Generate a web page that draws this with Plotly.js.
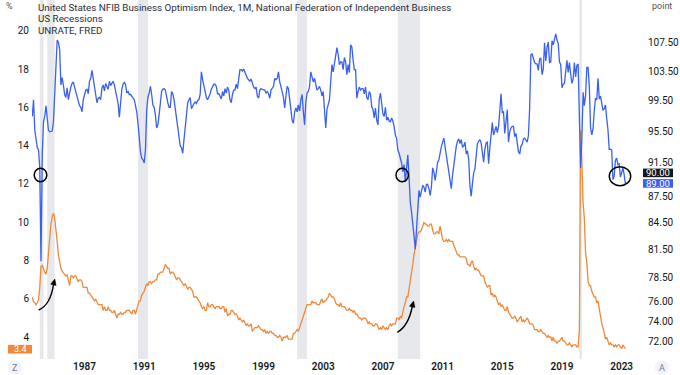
<!DOCTYPE html>
<html><head><meta charset="utf-8">
<script src="https://cdn.plot.ly/plotly-3.0.1.min.js"></script>
<style>html,body{margin:0;padding:0;background:#fff;}#chart{width:680px;height:375px;}</style>
</head><body><div id="chart"></div>
<script>
// ---------- DATA ----------
// Pre-1986 NFIB is quarterly (1978Q3 .. 1985Q4); UNRATE shown on the same quarterly bars
const quarterlyStart = {year: 1978, month: 7};
const nfibQuarterly = [97.4, 99.6, 95.6, 94.4, 93.4, 93.1, 90.9, 80.2, 92.5, 96.7, 97.4, 98.8, 97.1, 95.6, 95.4,
  95.5, 95.5, 96.7, 100.3, 105.8, 107.9, 107.6, 106.5, 101.6, 102.6, 101.6, 100.3, 99.9, 101.2, 99.6];
const unrateQuarterly = [6.1, 5.85, 5.8, 5.7, 5.8, 5.95, 6.6, 7.7, 7.75, 7.5, 7.4, 7.3, 7.6, 8.4, 9.4,
  9.9, 10.3, 10.47, 10.2, 9.7, 9.0, 8.3, 7.8, 7.6, 7.45, 7.35, 7.3, 7.2, 7.25, 7.0];

// Monthly from 1986-01 to 2023-04
const monthlyStart = {year: 1986, month: 1};
const nfibMonthly = [
  100.7,101.3,101.8,102.0,101.3,100.6,99.9,99.6,98.8,98.6,98.0,99.6,
  100.5,100.9,101.0,100.4,102.1,102.5,103.6,102.5,101.8,100.9,99.2,99.8,
  99.9,99.6,101.2,101.6,100.8,101.8,101.3,101.0,102.1,101.5,101.8,102.1,
  101.6,100.9,100.1,99.1,97.3,99.9,101.0,101.7,102.0,101.6,100.5,100.7,
  100.3,100.3,100.1,99.8,99.6,98.8,98.0,96.5,94.1,92.9,92.1,91.9,
  91.5,93.1,98.3,99.9,100.5,101.4,100.3,98.9,98.6,97.6,95.9,96.3,
  97.6,99.6,100.7,101.0,101.1,100.9,99.9,99.2,98.6,98.6,100.7,100.4,
  99.6,98.3,97.2,95.9,94.4,93.6,93.4,92.7,94.4,96.3,98.3,99.2,
  99.6,99.9,98.4,98.8,99.1,99.3,99.1,99.5,99.6,100.3,103.4,102.3,
  101.4,100.9,99.9,99.6,99.9,100.4,101.0,101.4,101.7,101.7,101.4,100.4,
  100.4,100.1,99.7,100.7,100.1,101.1,100.5,101.3,100.9,99.6,99.2,100.3,
  100.9,100.9,101.7,101.1,102.5,103.7,103.7,103.5,103.8,103.4,102.8,102.5,
  102.3,102.1,102.4,101.7,101.3,101.1,101.3,100.1,99.8,100.9,101.1,101.0,
  100.9,100.9,100.5,100.7,100.4,99.8,100.9,101.1,101.4,102.5,102.3,102.5,
  103.4,102.0,101.1,100.7,99.9,98.5,100.1,101.4,101.1,99.6,98.3,96.9,
  96.5,98.0,98.5,98.0,98.9,98.1,99.6,100.3,98.0,96.3,99.3,100.5,
  100.7,101.4,103.4,102.5,102.0,102.5,101.6,100.9,101.1,101.4,100.9,100.1,
  100.7,98.8,95.9,98.3,99.2,99.6,102.0,104.4,103.4,104.5,105.4,106.8,
  105.8,104.4,104.8,104.8,103.7,105.4,104.8,103.0,104.4,103.3,107.2,106.9,
  105.1,103.7,103.7,99.8,100.7,101.3,100.9,101.1,101.1,100.4,101.3,99.9,
  99.6,100.7,100.3,98.7,98.3,97.2,98.5,96.9,96.3,99.6,100.5,98.9,
  97.7,97.4,98.6,96.9,97.3,96.8,96.7,97.2,96.8,96.1,95.0,94.6,
  93.1,92.7,92.1,91.5,90.4,91.3,89.2,91.1,92.5,89.9,86.8,85.7,
  84.6,83.0,81.5,83.8,86.5,88.2,87.4,88.0,88.8,88.6,88.0,88.9,
  88.9,88.4,87.6,88.6,90.9,90.4,89.4,90.4,91.6,91.9,92.9,93.5,
  94.1,94.6,93.5,92.4,91.6,90.6,89.8,88.4,90.0,91.3,92.7,93.6,
  94.2,94.5,93.9,94.4,93.5,93.6,94.1,92.6,93.0,91.9,88.7,87.5,
  89.0,90.3,90.8,92.4,93.9,94.2,94.4,94.0,92.5,91.6,93.2,94.0,
  94.1,91.4,93.4,95.2,96.6,95.0,95.7,96.1,95.3,96.1,98.1,100.4,
  97.9,98.0,95.2,96.9,98.3,94.1,95.4,95.9,96.1,96.1,94.8,95.2,
  93.9,92.9,92.6,93.6,93.8,94.5,94.6,94.4,94.1,94.9,98.4,105.8,
  105.9,105.3,104.7,104.5,104.5,103.6,105.2,105.3,103.0,103.8,107.5,104.9,
  106.9,107.6,104.7,104.8,107.8,107.2,107.9,108.8,107.9,107.4,104.8,104.4,
  101.2,101.7,101.8,103.5,105.0,103.3,104.7,103.1,101.8,102.4,104.7,102.7,
  104.3,104.5,96.4,90.9,94.4,100.6,98.8,100.2,104.0,104.0,101.4,95.9,
  95.0,95.8,98.2,99.8,99.6,102.5,99.7,100.1,99.1,98.2,98.4,98.9,
  97.1,95.7,93.2,93.2,93.1,89.5,89.9,91.8,92.1,91.3,91.4,89.8,
  90.3,90.9,90.1,89.0];
const unrateMonthly = [
  6.7,7.2,7.2,7.1,7.2,7.2,7.0,6.9,7.0,7.0,6.9,6.6,
  6.6,6.6,6.6,6.3,6.3,6.2,6.1,6.0,5.9,6.0,5.8,5.7,
  5.7,5.7,5.7,5.4,5.6,5.4,5.4,5.6,5.4,5.4,5.3,5.3,
  5.4,5.2,5.0,5.2,5.2,5.3,5.2,5.2,5.3,5.3,5.4,5.4,
  5.4,5.3,5.2,5.4,5.4,5.2,5.5,5.7,5.9,5.9,6.2,6.3,
  6.4,6.6,6.8,6.7,6.9,6.9,6.8,6.9,6.9,7.0,7.0,7.3,
  7.3,7.4,7.4,7.4,7.6,7.8,7.7,7.6,7.6,7.3,7.4,7.4,
  7.3,7.1,7.0,7.1,7.1,7.0,6.9,6.8,6.7,6.8,6.6,6.5,
  6.6,6.6,6.5,6.4,6.1,6.1,6.1,6.0,5.9,5.8,5.6,5.5,
  5.6,5.4,5.4,5.8,5.6,5.6,5.7,5.7,5.6,5.5,5.6,5.6,
  5.6,5.5,5.5,5.6,5.6,5.3,5.5,5.1,5.2,5.2,5.4,5.4,
  5.3,5.2,5.2,5.1,4.9,5.0,4.9,4.8,4.9,4.7,4.6,4.7,
  4.6,4.6,4.7,4.3,4.4,4.5,4.5,4.5,4.6,4.5,4.4,4.4,
  4.3,4.4,4.2,4.3,4.2,4.3,4.3,4.2,4.2,4.1,4.1,4.0,
  4.0,4.1,4.0,3.8,4.0,4.0,4.0,4.1,3.9,3.9,3.9,3.9,
  4.2,4.2,4.3,4.4,4.3,4.5,4.6,4.9,5.0,5.3,5.5,5.7,
  5.7,5.7,5.7,5.9,5.8,5.8,5.8,5.7,5.7,5.7,5.9,6.0,
  5.8,5.9,5.9,6.0,6.1,6.3,6.2,6.1,6.1,6.0,5.8,5.7,
  5.7,5.6,5.8,5.6,5.6,5.6,5.5,5.4,5.4,5.5,5.4,5.4,
  5.3,5.4,5.2,5.2,5.1,5.0,5.0,4.9,5.0,5.0,5.0,4.9,
  4.7,4.8,4.7,4.7,4.6,4.6,4.7,4.7,4.5,4.4,4.5,4.4,
  4.6,4.5,4.4,4.5,4.4,4.6,4.7,4.6,4.7,4.7,4.7,5.0,
  5.0,4.9,5.1,5.0,5.4,5.6,5.8,6.1,6.1,6.5,6.8,7.3,
  7.8,8.3,8.7,9.0,9.4,9.5,9.5,9.6,9.8,10.0,9.9,9.9,
  9.8,9.8,9.9,9.9,9.6,9.4,9.4,9.5,9.5,9.4,9.8,9.3,
  9.1,9.0,9.0,9.1,9.0,9.1,9.0,9.0,9.0,8.8,8.6,8.5,
  8.3,8.3,8.2,8.2,8.2,8.2,8.2,8.1,7.8,7.8,7.7,7.9,
  8.0,7.7,7.5,7.6,7.5,7.5,7.3,7.2,7.2,7.2,6.9,6.7,
  6.6,6.7,6.7,6.2,6.3,6.1,6.2,6.1,5.9,5.7,5.8,5.6,
  5.7,5.5,5.4,5.4,5.6,5.3,5.2,5.1,5.0,5.0,5.1,5.0,
  4.8,4.9,5.0,5.1,4.8,4.9,4.8,4.9,5.0,4.9,4.7,4.7,
  4.7,4.6,4.4,4.4,4.4,4.3,4.3,4.4,4.3,4.2,4.2,4.1,
  4.0,4.1,4.0,4.0,3.8,4.0,3.8,3.8,3.7,3.8,3.8,3.9,
  4.0,3.8,3.8,3.7,3.6,3.6,3.7,3.6,3.5,3.6,3.6,3.6,
  3.5,3.5,4.4,14.8,13.2,11.0,10.2,8.4,7.9,6.9,6.7,6.7,
  6.4,6.2,6.1,6.1,5.8,5.9,5.4,5.1,4.7,4.5,4.2,3.9,
  4.0,3.8,3.6,3.7,3.6,3.6,3.5,3.6,3.5,3.6,3.6,3.5,
  3.4,3.6,3.5,3.4];

// US recessions as shaded (start month, end month exclusive)
const recessionStart = ['1980-01', '1981-07', '1990-08', '2001-04', '2008-01', '2020-03'];
const recessionEnd   = ['1980-10', '1983-01', '1991-04', '2001-12', '2009-07', '2020-05'];

const yearTicks = [1987, 1991, 1995, 1999, 2003, 2007, 2011, 2015, 2019, 2023];
const leftTicks = [4, 6, 8, 10, 12, 14, 16, 18, 20];
const rightTicks = [72, 74, 76, 78.5, 81.5, 84.5, 87.5, 91.5, 95.5, 99.5, 103.5, 107.5];
const lastNfib = 89.0, markLine = 90.0, lastUnrate = 3.4;

// ---------- AXIS POSITION (bar-index like scale: quarterly bars before 1986) ----------
function toAxis(year, month) {
  const t = year + (month - 1) / 12;
  return t >= 1986 ? t : 1986 - (1986 - t) / 3;
}
function ymToAxis(s) { const [y, m] = s.split('-').map(Number); return toAxis(y, m); }

const xQ = nfibQuarterly.map((_, i) => {
  const mm = quarterlyStart.month - 1 + 3 * i;
  return toAxis(quarterlyStart.year + Math.floor(mm / 12), (mm % 12) + 1);
});
const xM = nfibMonthly.map((_, i) => {
  const mm = monthlyStart.month - 1 + i;
  return toAxis(monthlyStart.year + Math.floor(mm / 12), (mm % 12) + 1);
});
const xAll = xQ.concat(xM);

// ---------- LAYOUT GEOMETRY ----------
const W = 680, H = 375, ML = 32, MR = 37, MT = 0, MB = 16;
const PW = W - ML - MR, PH = H - MT - MB;
const px = x => (x - ML) / PW;
const py = y => 1 - (y - MT) / PH;

const BLUE = '#3960ef', ORANGE = '#f0893a', TXT = '#131722', FONT = 'Roboto, "Liberation Sans", sans-serif';

const traces = [
  {x: xAll, y: unrateQuarterly.concat(unrateMonthly), type: 'scatter', mode: 'lines', yaxis: 'y',
   line: {color: ORANGE, width: 1.3}, hoverinfo: 'skip'},
  {x: xAll, y: nfibQuarterly.concat(nfibMonthly), type: 'scatter', mode: 'lines', yaxis: 'y2',
   line: {color: BLUE, width: 1.3}, hoverinfo: 'skip'}
];

const shapes = [];
recessionStart.forEach((s, i) => {
  shapes.push({type: 'rect', xref: 'x', yref: 'paper', x0: ymToAxis(s), x1: ymToAxis(recessionEnd[i]), y0: 0, y1: 1,
    fillcolor: '#e7e8ec', line: {width: 0}, layer: 'below'});
});
shapes.push({type: 'line', xref: 'paper', yref: 'y2', x0: 0, x1: 1, y0: Math.log10(markLine), y1: Math.log10(markLine),
  line: {color: '#3a3a3a', width: 1}});

function ellipse(cx, cy, rx, ry) {
  shapes.push({type: 'circle', xref: 'paper', yref: 'paper', x0: px(cx - rx), x1: px(cx + rx), y0: py(cy + ry), y1: py(cy - ry),
    line: {color: '#000', width: 1.5}});
}
ellipse(40.5, 175, 6.3, 6.7);
ellipse(402.2, 175, 6.2, 6.8);
ellipse(620, 176.2, 10.7, 9.5);

function arrow(sx, sy, cx, cy, ex, ey, tx, ty) {
  shapes.push({type: 'path', xref: 'paper', yref: 'paper',
    path: `M ${px(sx)},${py(sy)} Q ${px(cx)},${py(cy)} ${px(ex)},${py(ey)}`, line: {color: '#000', width: 1.4}});
  const dx = tx - ex, dy = ty - ey, len = Math.hypot(dx, dy), ux = dx / len, uy = dy / len;
  const hl = 6, hw = 2.8, bx = tx - ux * hl, by = ty - uy * hl;
  const c1x = bx - uy * hw, c1y = by + ux * hw, c2x = bx + uy * hw, c2y = by - ux * hw;
  shapes.push({type: 'path', xref: 'paper', yref: 'paper',
    path: `M ${px(tx)},${py(ty)} L ${px(c1x)},${py(c1y)} L ${px(c2x)},${py(c2y)} Z`, fillcolor: '#000', line: {color: '#000', width: 0.5}});
}
arrow(38.7, 310, 50.5, 305, 53.6, 284, 54.8, 279);
arrow(397.3, 332.3, 408.5, 326, 412.4, 306, 413.6, 301);

// Z / A buttons
function button(cx, cy) {
  shapes.push({type: 'circle', xref: 'paper', yref: 'paper', x0: px(cx - 7), x1: px(cx + 7), y0: py(cy + 7), y1: py(cy - 7),
    fillcolor: '#f0f3fa', line: {width: 0}});
}
button(14.5, 367.5);
button(662, 367.5);

// price label boxes on the right scale (TradingView shifts them apart)
function box(cx0, w, cy, h, color) {
  shapes.push({type: 'rect', xref: 'paper', yref: 'paper', x0: px(cx0), x1: px(cx0 + w), y0: py(cy + h / 2), y1: py(cy - h / 2),
    fillcolor: color, line: {width: 0}});
}
box(643, 30, 172.9, 8.6, '#131722');
box(643, 30, 183.4, 8.6, BLUE);
box(8, 24, 349.2, 8.6, ORANGE);

const annotations = [];
function label(text, x, y, opts) {
  annotations.push(Object.assign({text, xref: 'paper', yref: 'paper', x: px(x), y: py(y), showarrow: false,
    xanchor: 'left', yanchor: 'middle', font: {family: FONT, size: 9.8, color: '#2a2e39'}}, opts || {}));
}
label('United States NFIB Business Optimism Index, 1M, National Federation of Independent Business', 36, 7.5);
label('US Recessions', 36, 19);
label('UNRATE, FRED', 36, 30.5);
label('%', 9.5, 6, {xanchor: 'center', font: {family: FONT, size: 9, color: '#555'}});
label('point', 661.5, 6, {xanchor: 'center', font: {family: FONT, size: 9, color: '#555'}});
label('Z', 14.5, 367.5, {xanchor: 'center', font: {family: FONT, size: 9, color: '#787b86'}});
label('A', 662, 367.5, {xanchor: 'center', font: {family: FONT, size: 9, color: '#787b86'}});
label(markLine.toFixed(2), 658, 172.9, {xanchor: 'center', font: {family: FONT, size: 9.5, color: '#fff'}});
label(lastNfib.toFixed(2), 658, 183.4, {xanchor: 'center', font: {family: FONT, size: 9.5, color: '#fff'}});
label(String(lastUnrate), 20, 349.2, {xanchor: 'center', font: {family: FONT, size: 9, color: '#fff'}});

const axisFont = {family: FONT, size: 10, color: TXT};
const layout = {
  width: W, height: H, margin: {l: ML, r: MR, t: MT, b: MB}, paper_bgcolor: '#fff', plot_bgcolor: '#fff',
  showlegend: false, font: {family: FONT},
  xaxis: {range: [toAxis(1986, 1) - (69.6 - ML) / 14.92, toAxis(1986, 1) + (W - MR - 69.6) / 14.92],
    tickmode: 'array', tickvals: yearTicks, ticktext: yearTicks.map(String), showgrid: false, zeroline: false,
    showline: false, ticks: '', tickfont: {family: FONT, size: 10, color: TXT, weight: 600}, fixedrange: true},
  yaxis: {range: [20 - (PH - 30.7) / 19.16, 20 + 30.7 / 19.16], tickmode: 'array', tickvals: leftTicks,
    showgrid: false, zeroline: false, showline: false, ticks: '', tickfont: axisFont, ticklabelstandoff: 2, fixedrange: true},
  yaxis2: {type: 'log', overlaying: 'y', side: 'right',
    range: [Math.log10(72) - (PH - 341.7) / 1717, Math.log10(72) + 341.7 / 1717],
    tickmode: 'array', tickvals: rightTicks, ticktext: rightTicks.map(v => v.toFixed(2)),
    showgrid: false, zeroline: false, showline: false, ticks: '', tickfont: axisFont, ticklabelstandoff: 4, fixedrange: true},
  shapes, annotations
};
Plotly.newPlot('chart', traces, layout, {displayModeBar: false, staticPlot: true});
</script></body></html>
